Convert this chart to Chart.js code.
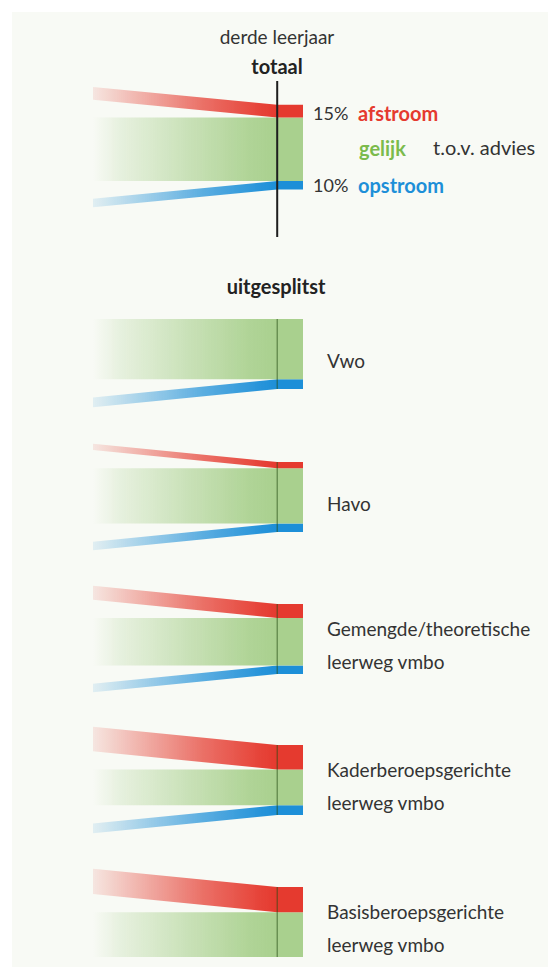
<!DOCTYPE html>
<html lang="nl">
<head>
<meta charset="utf-8">
<script src="https://cdn.jsdelivr.net/npm/chart.js@4.4.1/dist/chart.umd.min.js"></script>
<style>
  html, body { margin: 0; padding: 0; background: #fff; }
  body { width: 548px; height: 967px; position: relative; overflow: hidden; font-family: Lato, "Open Sans", sans-serif; color: #333; }
  #panel { position: absolute; left: 12px; top: 12px; right: 0; bottom: 0; background: #f8faf5; }
  canvas { position: absolute; }
  .t { position: absolute; white-space: nowrap; }
  .c { transform: translate(-50%, -50%); text-align: center; }
  .m { transform: translateY(-50%); }
  .b { font-weight: 700; }
</style>
</head>
<body>
<div id="panel"></div>

<script>
/* DATA */
const TOTAL_LABEL = 'totaal';
const TOTAL_AFSTROOM = 15;   // %
const TOTAL_GELIJK   = 75;
const TOTAL_OPSTROOM = 10;

const GROUPS   = ['Vwo', 'Havo', 'Gemengde/theoretische\nleerweg vmbo', 'Kaderberoepsgerichte\nleerweg vmbo', 'Basisberoepsgerichte\nleerweg vmbo'];
const AFSTROOM = [0, 9, 20, 35, 36];
const GELIJK   = [86, 79, 68, 51, 64];
const OPSTROOM = [14, 12, 12, 14, 0];

/* stages on the x axis: advies (left) -> derde leerjaar (line) -> end of bar */
const X_ADVIES = 0, X_LEERJAAR = 1, X_END = 1.14;

/* colours */
const RED = [229, 58, 47], GREEN = [169, 208, 142], BLUE = [29, 143, 216];

/* layout */
const X_PX = 184;               // px per x unit
const LEFT = 93;                // px of advies side
const rgba = (c, a) => `rgba(${c[0]},${c[1]},${c[2]},${a})`;

function gradFill(color, stops) {
  return ctx => {
    const chart = ctx.chart;
    if (!chart.chartArea) return rgba(color, 1);
    const xs = chart.scales.x;
    const g = chart.ctx.createLinearGradient(xs.getPixelForValue(X_ADVIES), 0, xs.getPixelForValue(X_LEERJAAR), 0);
    stops.forEach(([p, a]) => g.addColorStop(p, rgba(color, a)));
    return g;
  };
}
const FLOW_STOPS  = [[0, 0.1], [0.3, 0.42], [0.6, 0.72], [0.9, 0.95], [1, 1]];
const GREEN_STOPS = [[0, 0], [0.15, 0.22], [0.5, 0.58], [0.85, 0.92], [1, 1]];

// band between top and bottom (in %), shifted by `shift` at the advies side
function band(top, bottom, shift, color, stops) {
  const pts = v => [{ x: X_ADVIES, y: v + shift }, { x: X_LEERJAAR, y: v }, { x: X_END, y: v }];
  const base = { pointRadius: 0, borderWidth: 0, borderColor: 'transparent', tension: 0 };
  return [
    { ...base, data: pts(top), fill: false },
    { ...base, data: pts(bottom), fill: '-1', backgroundColor: gradFill(color, stops) }
  ];
}

function vline(y0, y1, color, width) {
  return { data: [{ x: X_LEERJAAR, y: y0 }, { x: X_LEERJAAR, y: y1 }], borderColor: color, borderWidth: width,
           pointRadius: 0, fill: false, order: -1 };
}

function makeFlow(top, yMin, yMax, pxPerUnit, af, ge, op, shift, line) {
  const cv = document.createElement('canvas');
  const w = Math.round(X_END * X_PX), h = Math.round((yMax - yMin) * pxPerUnit);
  cv.width = w; cv.height = h;
  cv.style.left = LEFT + 'px';
  cv.style.top = Math.round(top + yMin * pxPerUnit) + 'px';
  cv.style.width = w + 'px'; cv.style.height = h + 'px';
  document.body.appendChild(cv);

  const datasets = [line];
  if (af > 0) datasets.push(...band(0, af, -shift, RED, FLOW_STOPS));
  datasets.push(...band(af, af + ge, 0, GREEN, GREEN_STOPS));
  if (op > 0) datasets.push(...band(af + ge, af + ge + op, shift, BLUE, FLOW_STOPS));

  return new Chart(cv.getContext('2d'), {
    type: 'line',
    data: { datasets },
    options: {
      responsive: false,
      animation: false,
      devicePixelRatio: 1,
      layout: { padding: 0 },
      plugins: { legend: { display: false }, tooltip: { enabled: false } },
      scales: {
        x: { type: 'linear', min: X_ADVIES, max: X_END, display: false },
        y: { type: 'linear', min: yMin, max: yMax, reverse: true, display: false }
      }
    }
  });
}

function label(text, x, y, cls, style) {
  const d = document.createElement('div');
  d.className = 't ' + cls;
  d.textContent = text;
  Object.assign(d.style, { left: x + 'px', top: y + 'px' }, style || {});
  document.body.appendChild(d);
  return d;
}

/* total panel */
makeFlow(105, -28, 156, 0.85, TOTAL_AFSTROOM, TOTAL_GELIJK, TOTAL_OPSTROOM, 21,
  vline(-28, 156, '#1e1e1e', 2));

label('derde leerjaar', 277, 36, 'c', { fontSize: '19px' });
label(TOTAL_LABEL, 277, 66, 'c b', { fontSize: '20px', color: '#222' });
label(TOTAL_AFSTROOM + '%', 313, 113, 'm', { fontSize: '18px' });
label('afstroom', 358, 113, 'm b', { fontSize: '20px', color: 'rgb(229,58,47)' });
label('gelijk', 359, 148, 'm b', { fontSize: '20px', color: '#7bbb4c' });
label('t.o.v. advies', 433, 147, 'm', { fontSize: '20px' });
label(TOTAL_OPSTROOM + '%', 313, 185, 'm', { fontSize: '18px' });
label('opstroom', 358, 185, 'm b', { fontSize: '20px', color: 'rgb(29,143,216)' });

label('uitgesplitst', 276, 286, 'c b', { fontSize: '20px', color: '#222' });

/* split panels */
const PANEL_TOP = [319, 462, 604, 745, 887];
GROUPS.forEach((g, i) => {
  const total = AFSTROOM[i] + GELIJK[i] + OPSTROOM[i];
  makeFlow(PANEL_TOP[i], -30, 130, 0.7, AFSTROOM[i], GELIJK[i], OPSTROOM[i], 26,
    vline(0, total, 'rgba(40,80,20,0.28)', 1));
  label(g, 327, PANEL_TOP[i] + 41, 'm', { fontSize: '19px', lineHeight: '33px', whiteSpace: 'pre' });
});
</script>
</body>
</html>
